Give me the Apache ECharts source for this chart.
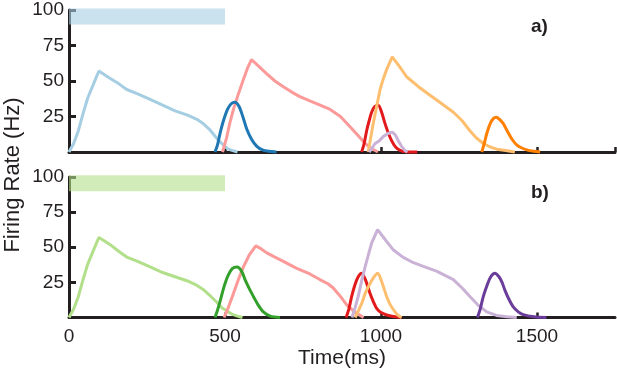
<!DOCTYPE html>
<html>
<head>
<meta charset="utf-8">
<script src="https://cdn.jsdelivr.net/npm/echarts@6/dist/echarts.min.js"></script>
<style>
  html, body { margin: 0; padding: 0; background: #fff; }
  #chart { width: 617px; height: 381px; }
</style>
</head>
<body>
<div id="chart"></div>
<script>
// time ticks (ms) and rate ticks (Hz)
var timeTicks = [0, 500, 1000, 1500];
var rateTicks = [25, 50, 75, 100];

// stimulus bars [start, end] in ms
var stimA = [0, 500];
var stimB = [0, 500];

// panel a) curves, [time ms, rate Hz]
var lightBlueA = [[0,0],[15,6],[30,15],[45,27],[60,38],[75,46],[90,54],[96,57],[110,55],[131,52],[160,48],[185,44],[220,41],[260,37],[300,33],[340,29],[380,26],[410,23],[430,20],[450,16],[465,12],[480,8],[495,5],[510,2],[525,1],[540,0]];
var darkBlueA = [[468,0],[476,5],[484,13],[495,22],[508,30],[520,34],[532,35],[545,32],[557,25],[570,16],[585,9],[602,4],[620,1.5],[640,0.5],[665,0]];
var pinkA = [[492,0],[505,10],[515,20],[527,30],[540,39],[559,51],[572,59],[585,65],[610,60],[634,55],[660,50],[687,46],[715,42],[740,39],[772,36],[805,33],[837,30],[870,25],[900,18],[925,12],[945,7],[965,3],[990,0]];
var redA = [[938,0],[946,6],[954,15],[962,22],[970,28],[980,32],[991,33],[1002,28],[1013,20],[1024,13],[1034,8],[1045,4],[1055,2],[1070,0.5],[1090,0],[1116,0]];
var lightOrangeA = [[959,0],[967,10],[975,20],[986,32],[997,44],[1008,52],[1018,58],[1036,67],[1060,60],[1082,53],[1120,46],[1157,40],[1195,34],[1232,28],[1260,22],[1285,15],[1305,10],[1328,6],[1350,3.5],[1371,2],[1400,1],[1429,0]];
var lightPurpleA = [[962,0],[972,3],[981,6],[995,8],[1008,11],[1022,13],[1036,14],[1046,12],[1055,8],[1066,4],[1077,1],[1085,0]];
var orangeA = [[1323,0],[1331,6],[1339,13],[1350,20],[1360,23.5],[1369,24.5],[1380,23],[1392,20],[1403,15.5],[1420,9],[1435,5],[1450,3],[1467,1.5],[1490,0.5],[1510,0]];

// panel b) curves
var lightGreenB = [[0,0],[15,6],[30,15],[45,27],[60,38],[75,46],[90,54],[96,57],[110,55],[131,52],[160,47],[185,43],[220,40],[260,36],[300,32],[340,29],[380,26],[409,23],[430,20],[450,16],[473,11],[490,7],[510,4],[526,2],[540,1],[556,0]];
var darkGreenB = [[468,0],[477,6],[486,13],[497,22],[510,30],[524,35],[539,36],[553,33],[566,26],[579,20],[591,15],[606,9],[623,4],[645,1],[676,0]];
var pinkB = [[497,0],[507,5],[517,11],[527,17],[543,27],[559,36],[579,45],[599,51],[615,49],[634,46],[660,43],[687,40],[730,35],[772,31],[804,27],[830,24],[847,21],[870,15],[890,9],[915,4],[944,0]];
var redB = [[888,0],[897,6],[906,15],[916,23],[927,29],[938,31.5],[950,27],[965,17],[976,11],[986,6.5],[1000,3.5],[1018,1.8],[1040,0.7],[1066,0]];
var lightOrangeB = [[917,0],[930,6],[940,11],[949,17],[962,23],[975,28],[989,31.5],[1000,27],[1009,21],[1018,15],[1030,9],[1045,4],[1055,1.5],[1066,0]];
var lightPurpleB = [[907,0],[917,7],[927,15],[938,26],[949,36],[960,45],[970,53],[989,62.5],[1015,55],[1040,48],[1070,43],[1104,39],[1140,36],[1178,33],[1205,30],[1232,27],[1260,21],[1285,15],[1310,9],[1339,4],[1370,1.5],[1403,0.6],[1435,0]];
var purpleB = [[1309,0],[1318,6],[1328,15],[1340,23],[1352,29],[1365,31.5],[1378,29],[1388,25],[1397,19.5],[1410,13],[1424,7.5],[1440,4],[1456,2],[1490,0.5],[1530,0]];

var FONT = 'Liberation Sans, Arial, Helvetica, sans-serif';
var AXIS_COLOR = '#231f20';

function curve(data, color, gi, smooth) {
    return {
        type: 'line',
        xAxisIndex: gi,
        yAxisIndex: gi,
        data: data,
        symbol: 'none',
        smooth: smooth ? 0.3 : false,
        clip: false,
        lineStyle: { color: color, width: 3 },
        z: 3
    };
}

// 刺激条 (drawn as a thick translucent line)
function stimBar(range, color, gi) {
    return {
        type: 'line',
        xAxisIndex: gi,
        yAxisIndex: gi,
        data: [[range[0], 95.5], [range[1], 95.5]],
        symbol: 'none',
        clip: false,
        silent: true,
        lineStyle: { color: color, width: 16, cap: 'butt' },
        z: 5
    };
}

function xAxisOf(gi, showLabels) {
    return {
        type: 'value',
        gridIndex: gi,
        min: 0,
        max: 1750,
        interval: 500,
        axisLine: { lineStyle: { color: AXIS_COLOR, width: 3 } },
        axisTick: { show: true, inside: true, length: 5, lineStyle: { color: AXIS_COLOR, width: 2.5 } },
        axisLabel: {
            show: showLabels,
            margin: 10,
            color: '#231f20',
            fontFamily: FONT,
            fontSize: 19,
            showMaxLabel: false,
            formatter: function (v) { return timeTicks.indexOf(v) >= 0 ? String(v) : ''; }
        },
        splitLine: { show: false },
        name: showLabels ? 'Time(ms)' : '',
        nameLocation: 'middle',
        nameGap: 30,
        nameTextStyle: { color: '#231f20', fontFamily: FONT, fontSize: 21 }
    };
}

function yAxisOf(gi) {
    return {
        type: 'value',
        gridIndex: gi,
        min: 0,
        max: 100,
        interval: 25,
        axisLine: { show: true, lineStyle: { color: AXIS_COLOR, width: 3 } },
        axisTick: { show: true, inside: true, length: 7, lineStyle: { color: AXIS_COLOR, width: 3 } },
        axisLabel: {
            margin: 5,
            color: '#231f20',
            fontFamily: FONT,
            fontSize: 19,
            formatter: function (v) { return rateTicks.indexOf(v) >= 0 ? String(v) : ''; }
        },
        splitLine: { show: false }
    };
}

var myChart = echarts.init(document.getElementById('chart'));
var option = {
    animation: false,
    backgroundColor: '#fff',
    grid: [
        { left: 69, right: 2, top: 10, height: 142 },
        { left: 69, right: 2, top: 177, height: 140.5 }
    ],
    xAxis: [xAxisOf(0, false), xAxisOf(1, true)],
    yAxis: [yAxisOf(0), yAxisOf(1)],
    graphic: [
        {
            type: 'text', left: 531, top: 17,
            style: { text: 'a)', font: 'bold 19px ' + FONT, fill: '#231f20' }
        },
        {
            type: 'text', left: 531, top: 183,
            style: { text: 'b)', font: 'bold 19px ' + FONT, fill: '#231f20' }
        },
        {
            type: 'text', x: 13, y: 175, rotation: Math.PI / 2,
            style: { text: 'Firing Rate (Hz)', font: '22px ' + FONT, fill: '#231f20', align: 'center', verticalAlign: 'middle' }
        }
    ],
    series: [
        curve(lightBlueA, '#a6cee3', 0, false),
        curve(pinkA, '#fb9a99', 0, false),
        curve(darkBlueA, '#1f78b4', 0, true),
        curve(redA, '#e31a1c', 0, true),
        curve(lightOrangeA, '#fdbf6f', 0, false),
        curve(lightPurpleA, '#cab2d6', 0, false),
        curve(orangeA, '#ff7f00', 0, true),
        stimBar(stimA, 'rgba(166,206,227,0.6)', 0),

        curve(lightGreenB, '#b2df8a', 1, false),
        curve(pinkB, '#fb9a99', 1, false),
        curve(darkGreenB, '#33a02c', 1, true),
        curve(redB, '#e31a1c', 1, true),
        curve(lightPurpleB, '#cab2d6', 1, false),
        curve(lightOrangeB, '#fdbf6f', 1, true),
        curve(purpleB, '#6a3d9a', 1, true),
        stimBar(stimB, 'rgba(178,223,138,0.6)', 1)
    ]
};
option && myChart.setOption(option);
</script>
</body>
</html>
